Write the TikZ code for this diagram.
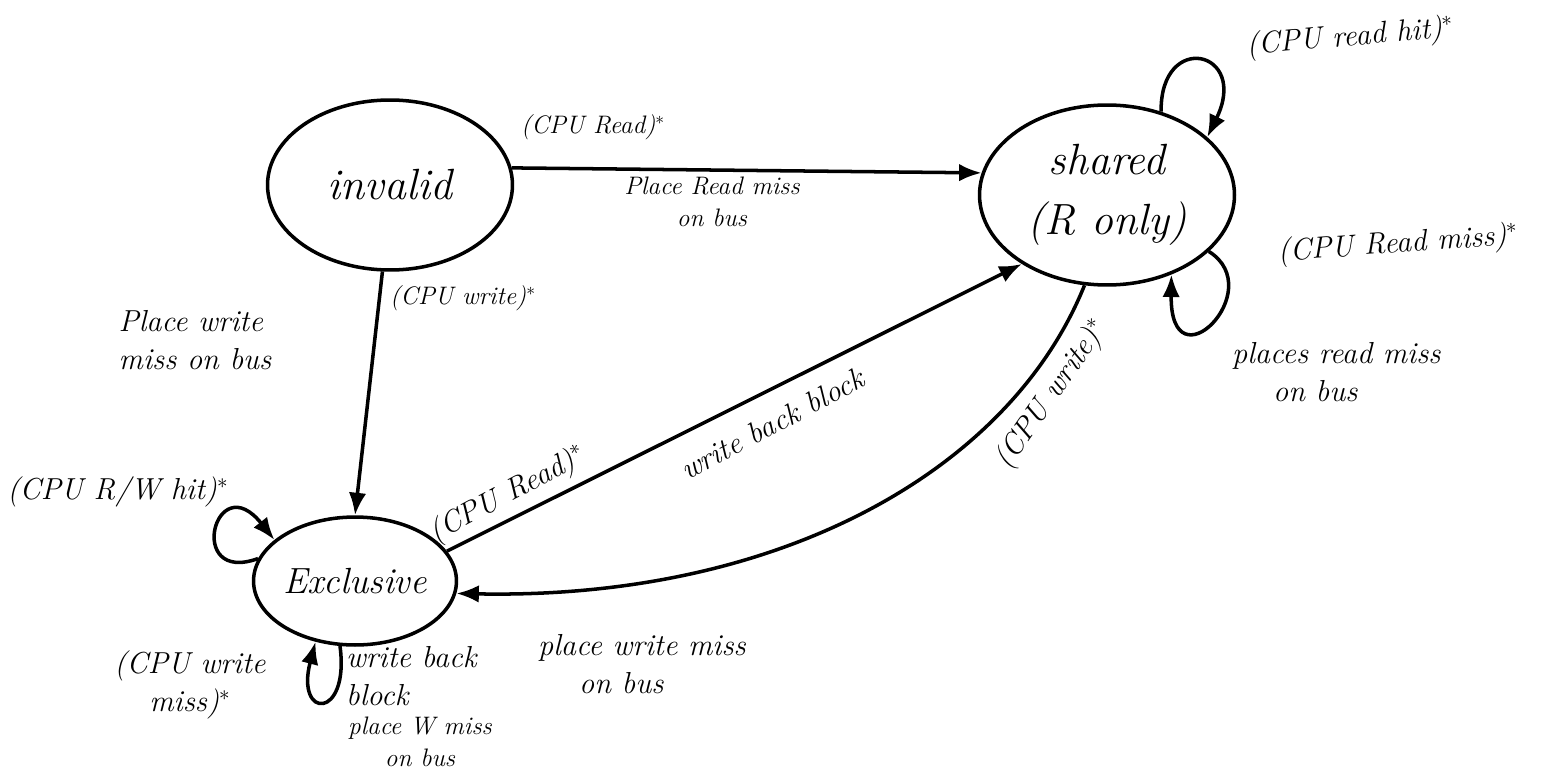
\documentclass[tikz,border=0pt]{standalone}
\usetikzlibrary{shapes.geometric, arrows.meta}

\tikzset{
  state/.style={ellipse, draw, line width=2pt, font=\huge\itshape, align=center, inner sep=0pt},  % cache line states
  note/.style={font=\LARGE\itshape, align=left},  % transition labels
  small note/.style={note, font=\Large\itshape},  % the shorter labels
  arr/.style={line width=2pt, -{Latex[length=4.5mm,width=3.5mm]}},  % transitions
}

\begin{document}
\begin{tikzpicture}[x=0.02cm, y=-0.02cm]  % pixel-like units, y grows downwards
    \useasboundingbox (0,0) rectangle (1554,777);  % fixes the page size

    % states
    \node[state, font=\Huge\itshape, minimum width=4.9cm, minimum height=3.4cm] (invalid) at (390,185) {invalid};
    \node[state, font=\Huge\itshape, minimum width=5.1cm, minimum height=3.6cm] (shared) at (1107,195) {shared\\[4pt](R only)};
    \node[state, minimum width=3.9cm, minimum height=2.56cm] (excl) at (355,581) {Exclusive};

    % transitions between states
    \draw[arr] (invalid.8) -- (shared.170);
    \draw[arr] (invalid.265) -- (excl.90);
    \draw[arr] (excl.18) -- (shared.219);
    \draw[arr] (shared.256) .. controls (1010,470) and (780,600) .. (excl.353);

    % self loops
    \draw[arr] (shared.57) .. controls (1160,30) and (1250,50) .. (shared.30);
    \draw[arr] (shared.331) .. controls (1270,290) and (1170,390) .. (shared.309);
    \draw[arr] (excl.167) .. controls (185,585) and (215,465) .. (excl.153);
    \draw[arr] (excl.257) .. controls (350,720) and (295,720) .. (excl.237);

    % labels
    \node[small note, anchor=west] (lrd) at (515,127) {(CPU Read)$^*$};
    \node[small note, align=center] (lrdbus) at (712,202) {Place Read miss\\on bus};
    \node[small note, anchor=west] (lwr) at (384,298) {(CPU write)$^*$};
    \node[note] (lwrbus) at (195,340) {Place write\\miss on bus};
    \node[note, rotate=28] (lrd2) at (508,495) {(CPU Read)$^*$};
    \node[note, rotate=28] (lwb) at (772,424) {write back block};
    \node[note, rotate=55] (lwr2) at (1052,395) {(CPU write)$^*$};
    \node[note] (lwrbus2) at (642,664) {place write miss\\\quad\ on bus};
    \node[note, rotate=5] (lhit) at (1350,38) {(CPU read hit)$^*$};
    \node[note, rotate=4] (lmiss) at (1398,245) {(CPU Read miss)$^*$};
    \node[note, anchor=west] (lmissbus) at (1226,372) {places read miss\\\quad\ on bus};
    \node[note] (lrwhit) at (118,492) {(CPU R/W hit)$^*$};
    \node[note, align=center] (lwmiss) at (190,685) {(CPU write\\miss)$^*$};
    \node[note, anchor=west] (lwbb) at (340,676) {write back\\block};
    \node[small note, align=center] (lwbbus) at (420,742) {place W miss\\on bus};
\end{tikzpicture}
\end{document}
